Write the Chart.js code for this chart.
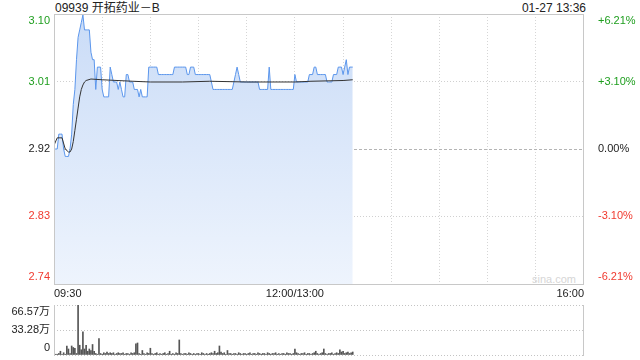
<!DOCTYPE html>
<html>
<head>
<meta charset="utf-8">
<script src="https://cdn.jsdelivr.net/npm/chart.js@4.4.1/dist/chart.umd.min.js"></script>
<style>
  body { margin: 0; background: #fff; width: 640px; height: 360px; overflow: hidden; position: relative;
         font-family: "Liberation Sans", Arial, "Noto Sans CJK SC", sans-serif; }
  canvas { position: absolute; left: 0; }
  #price { top: 0; }
  #vol { top: 300px; }
  .t { position: absolute; font-size: 12px; color: #222; white-space: nowrap; line-height: 14px; }
</style>
</head>
<body>
<div class="t" style="left:55px;top:1px">09939 开拓药业－B</div>
<div class="t" style="right:54px;top:1px">01-27 13:36</div>
<div class="t" style="left:532px;top:272px;font-size:11px;color:#d6d6d6">sina.com</div>
<canvas id="price" width="640" height="302"></canvas>
<canvas id="vol" width="640" height="60"></canvas>
<script>
// 分时数据: 下标 = 分钟序号 (0 = 09:30, 150 = 12:00, 151 = 13:01, 330 = 16:00)
const prevClose = 2.92;

const prices = [
  2.92, 2.92, 2.92, 2.94, 2.94, 2.94, 2.92, 2.91, 2.91, 2.91,
  2.92, 2.94, 2.98, 3.00, 3.04, 3.07, 3.08, 3.09, 3.10, 3.08,
  3.08, 3.08, 3.08, 3.05, 3.04, 3.04, 3.00, 3.03, 3.03, 3.03,
  3.00, 2.99, 2.99, 2.99, 2.99, 3.03, 3.02, 3.01, 3.01, 3.01,
  3.00, 3.01, 3.00, 2.99, 2.99, 3.02, 3.02, 3.01, 3.01, 3.01,
  3.00, 3.00, 3.00, 2.99, 3.00, 2.99, 2.99, 2.99, 2.99, 3.03,
  3.03, 3.03, 3.03, 3.03, 3.03, 3.02, 3.02, 3.02, 3.02, 3.02,
  3.02, 3.02, 3.02, 3.02, 3.02, 3.03, 3.03, 3.03, 3.03, 3.03,
  3.03, 3.03, 3.03, 3.02, 3.02, 3.03, 3.03, 3.03, 3.02, 3.02,
  3.02, 3.02, 3.02, 3.02, 3.02, 3.02, 3.02, 3.02, 3.01, 3.00,
  3.00, 3.00, 3.00, 3.00, 3.00, 3.00, 3.00, 3.00, 3.00, 3.00,
  3.00, 3.00, 3.01, 3.02, 3.03, 3.02, 3.01, 3.01, 3.01, 3.01,
  3.01, 3.01, 3.01, 3.01, 3.01, 3.01, 3.01, 3.01, 3.00, 3.00,
  3.00, 3.00, 3.00, 3.00, 3.03, 3.00, 3.00, 3.00, 3.00, 3.00,
  3.00, 3.00, 3.00, 3.00, 3.00, 3.00, 3.00, 3.00, 3.00, 3.00,
  3.02, 3.01, 3.01, 3.01, 3.01, 3.01, 3.01, 3.01, 3.01, 3.02,
  3.02, 3.02, 3.03, 3.03, 3.02, 3.02, 3.02, 3.02, 3.02, 3.02,
  3.01, 3.01, 3.01, 3.01, 3.02, 3.02, 3.02, 3.03, 3.03, 3.03,
  3.02, 3.03, 3.04, 3.02, 3.03, 3.03, 3.03
];

// 均价线 (分钟序号, 均价)
const avgX = [0, 2, 5, 7, 9, 10, 11, 12, 13, 14, 15, 16, 17, 18, 19, 20, 23, 30, 49, 60, 80, 97, 120, 150, 160, 180, 186];
const avgY = [2.925, 2.935, 2.935, 2.92, 2.916, 2.916, 2.92, 2.93, 2.945, 2.96, 2.975, 2.99, 3.0, 3.006, 3.01, 3.012, 3.014, 3.013, 3.011, 3.010, 3.010, 3.011, 3.010, 3.010, 3.011, 3.012, 3.013];

// 成交量 (万股)
const volumes = [
  2, 1, 1, 2, 5, 1, 3, 1, 12, 8,
  2, 12, 10, 9, 2, 66.57, 13, 7, 31, 8,
  13, 5, 8, 6, 14, 5, 2, 1, 22, 2,
  1, 3, 2, 4, 2, 3, 2, 3, 1, 2,
  3, 2, 2, 3, 1, 2, 2, 1, 3, 2,
  3, 15, 16, 2, 1, 6, 2, 1, 3, 2,
  9, 2, 1, 2, 3, 1, 2, 1, 2, 3,
  1, 2, 5, 1, 2, 1, 3, 2, 20, 2,
  1, 2, 2, 1, 3, 2, 1, 2, 1, 2,
  2, 1, 3, 2, 1, 2, 1, 2, 3, 2,
  5, 2, 3, 12, 4, 2, 3, 1, 6, 2,
  2, 1, 2, 2, 1, 3, 2, 1, 2, 2,
  1, 2, 3, 1, 2, 2, 1, 3, 2, 1,
  2, 2, 1, 3, 2, 1, 2, 2, 3, 1,
  2, 1, 2, 2, 1, 3, 2, 2, 1, 2,
  8, 3, 2, 1, 2, 2, 3, 1, 2, 2,
  1, 2, 3, 5, 2, 1, 2, 3, 8, 2,
  1, 2, 2, 3, 1, 2, 3, 2, 7, 4,
  5, 2, 3, 4, 2, 3, 4
];

const xGrid = [0, 30, 60, 90, 120, 150, 180, 210, 240, 270, 300, 330];
const xLabelPos = [0, 150, 330];
const xLabelText = ['09:30', '12:00/13:00', '16:00'];

const pctTicks = [-6.21, -3.10, 0, 3.10, 6.21];
const leftLabels = ['2.74', '2.83', '2.92', '3.01', '3.10'];
const rightLabels = ['-6.21%', '-3.10%', '0.00%', '+3.10%', '+6.21%'];
const tickColors = ['#f03a2f', '#f03a2f', '#222', '#1e9e1e', '#1e9e1e'];

const volMax = 66.57;
const volTicks = [0, 33.285, 66.57];
const volLabels = ['0', '33.28万', '66.57万'];

Chart.defaults.font.family = '"Liberation Sans", Arial, "Noto Sans CJK SC", sans-serif';
Chart.defaults.font.size = 11;

const yTickVals = pctTicks.map(p => prevClose * (1 + p / 100));
const yMin = yTickVals[0], yMax = yTickVals[4];

// 顶部标签往下挪, 底部标签往上挪 (两行文字, 一行为空)
function edgeLabel(text, i, last) {
  if (i === 0) return [text, ''];
  if (i === last) return ['', text];
  return text;
}

// 固定轴宽, 不让标签把绘图区挤小
function fixY(width) {
  return s => { s.width = width; s.paddingTop = 0; s.paddingBottom = 0; };
}

const frame = {
  id: 'frame',
  afterDraw(chart) {
    const { ctx, chartArea: a } = chart;
    ctx.save();
    ctx.strokeStyle = '#c8c8c8';
    ctx.lineWidth = 1;
    ctx.strokeRect(a.left + 0.5, a.top + 0.5, a.right - a.left - 1, a.bottom - a.top);
    ctx.restore();
  }
};

const sides = {
  id: 'sides',
  afterDraw(chart) {
    const { ctx, chartArea: a } = chart;
    ctx.save();
    ctx.strokeStyle = '#c8c8c8';
    ctx.lineWidth = 1;
    ctx.beginPath();
    ctx.moveTo(a.left + 0.5, a.top); ctx.lineTo(a.left + 0.5, a.bottom + 1);
    ctx.moveTo(a.right - 0.5, a.top); ctx.lineTo(a.right - 0.5, a.bottom + 1);
    ctx.stroke();
    ctx.restore();
  }
};

new Chart(document.getElementById('price'), {
  type: 'line',
  data: {
    datasets: [
      {
        label: '均价',
        data: avgX.map((x, i) => ({ x: x, y: avgY[i] })),
        borderColor: '#333',
        borderWidth: 1,
        pointRadius: 0,
        fill: false,
        order: 0
      },
      {
        label: '价格',
        data: prices.map((y, i) => ({ x: i, y: y })),
        borderColor: '#5b96ec',
        borderWidth: 1,
        pointRadius: 0,
        fill: 'start',
        backgroundColor: (c) => {
          const a = c.chart.chartArea;
          if (!a) return 'rgba(0,0,0,0)';
          const g = c.chart.ctx.createLinearGradient(0, a.top, 0, a.bottom);
          g.addColorStop(0, '#cadcf7');
          g.addColorStop(1, '#eef4fd');
          return g;
        },
        order: 1
      }
    ]
  },
  options: {
    responsive: false,
    animation: false,
    devicePixelRatio: 1,
    layout: { padding: { top: 14 } },
    plugins: { legend: { display: false }, tooltip: { enabled: false } },
    scales: {
      x: {
        type: 'linear', min: 0, max: 330,
        afterBuildTicks: s => { s.ticks = xGrid.map(v => ({ value: v })); },
        afterFit: s => { s.height = 18; s.paddingLeft = 0; s.paddingRight = 0; },
        grid: {
          color: c => (c.index === 0 || c.index === xGrid.length - 1) ? 'rgba(0,0,0,0)' : '#d6d6d6',
          drawTicks: false
        },
        border: { display: false, dash: [1, 2] },
        ticks: {
          autoSkip: false, maxRotation: 0, align: 'inner', padding: 3, color: '#222',
          callback: v => { const k = xLabelPos.indexOf(v); return k < 0 ? '' : xLabelText[k]; }
        }
      },
      y: {
        position: 'left', min: yMin, max: yMax,
        afterBuildTicks: s => { s.ticks = yTickVals.map(v => ({ value: v })); },
        afterFit: fixY(54),
        grid: {
          color: c => c.index === 2 ? '#b4b4b4' : ((c.index === 0 || c.index === 4) ? 'rgba(0,0,0,0)' : '#d0d0d0'),
          drawTicks: false
        },
        border: { display: false, dash: c => c.index === 2 ? [3, 2] : [1, 2] },
        ticks: {
          autoSkip: false, padding: 4,
          color: c => tickColors[c.index],
          callback: (v, i) => edgeLabel(leftLabels[i], i, 4)
        }
      },
      y2: {
        position: 'right', min: yMin, max: yMax,
        afterBuildTicks: s => { s.ticks = yTickVals.map(v => ({ value: v })); },
        afterFit: fixY(56),
        grid: { display: false },
        border: { display: false },
        ticks: {
          autoSkip: false, padding: 6,
          color: c => tickColors[c.index],
          callback: (v, i) => edgeLabel(rightLabels[i], i, 4)
        }
      }
    }
  },
  plugins: [frame]
});

new Chart(document.getElementById('vol'), {
  type: 'bar',
  data: {
    datasets: [{
      label: '成交量',
      data: volumes.map((y, i) => ({ x: i, y: y })),
      backgroundColor: '#555',
      borderWidth: 0,
      barThickness: 1
    }]
  },
  options: {
    responsive: false,
    animation: false,
    devicePixelRatio: 1,
    layout: { padding: { top: 5, bottom: 5, right: 56 } },
    plugins: { legend: { display: false }, tooltip: { enabled: false } },
    scales: {
      x: { type: 'linear', min: 0, max: 330, offset: false, display: false },
      y: {
        min: 0, max: volMax,
        afterBuildTicks: s => { s.ticks = volTicks.map(v => ({ value: v })); },
        afterFit: fixY(54),
        grid: { color: '#c4c4c4', drawTicks: false },
        border: { display: false, dash: [1, 2] },
        ticks: {
          autoSkip: false, padding: 4, color: '#222',
          callback: (v, i) => edgeLabel(volLabels[i], i, 2)
        }
      }
    }
  },
  plugins: [sides]
});
</script>
</body>
</html>
